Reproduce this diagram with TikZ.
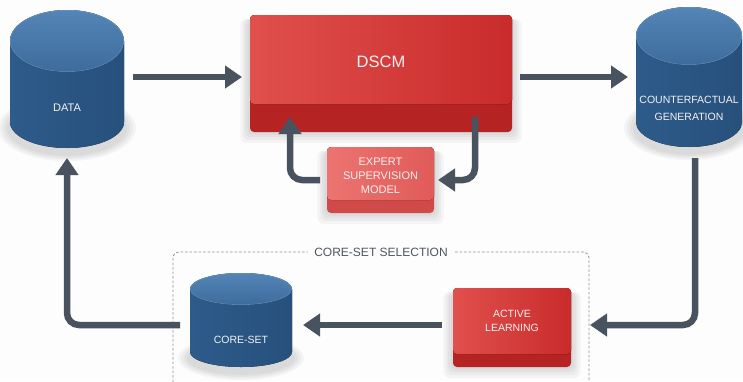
\documentclass[tikz,border=0pt]{standalone}
\usepackage{fontspec}
\setmainfont{Liberation Sans}
\usetikzlibrary{arrows.meta,calc}
\definecolor{bgc}{HTML}{FDFDFD}
\definecolor{arrcol}{HTML}{48535F}
\definecolor{cylL}{HTML}{2D5B8A}
\definecolor{cylM}{HTML}{3F6F9F}
\definecolor{cylR}{HTML}{27507C}
\definecolor{cylT}{HTML}{5485B7}
\definecolor{cylB}{HTML}{3D6C9C}
\definecolor{cylRim}{HTML}{6F9BC6}
\definecolor{redL}{HTML}{E0504C}
\definecolor{redR}{HTML}{C92B2B}
\definecolor{redLip}{HTML}{B52323}
\definecolor{expL}{HTML}{EC7471}
\definecolor{expR}{HTML}{E05B59}
\definecolor{expLip}{HTML}{CF4A48}
\definecolor{dashc}{HTML}{8A8F96}
\definecolor{txtc}{HTML}{F4F1F1}
\definecolor{lblc}{HTML}{50565E}
\tikzset{
  arr/.style={line width=6.5pt, draw=arrcol, rounded corners=12pt,
    -{Triangle[width=22pt,length=17pt]}},
  anchorbox/.style={draw=none, fill=none, inner sep=0pt, outer sep=0pt},
  cylbody/.style={left color=cylL, middle color=cylM, right color=cylR},
  cyltop/.style={top color=cylT, bottom color=cylB},
  wtext/.style={text=txtc, align=center, inner sep=0pt},
  shadowlayer/.style={fill=black, fill opacity=0.035},
}
% cylinder: cx, top-centre y, bottom-centre y, rx, ry top, ry bottom
\newcommand\mycyl[6]{%
  \foreach \k in {3,6,9,12}{%
    \fill[shadowlayer] (#1,#3+6) ellipse[x radius=#4pt+\k pt, y radius=#6pt+0.6*\k pt];}
  \fill[cylbody] (#1,#2) ++(-#4,0) -- ++(0,#3-#2)
     arc[start angle=180,end angle=360,x radius=#4pt,y radius=#6pt] -- ++(0,#2-#3) -- cycle;
  \fill[cyltop] (#1,#2) ellipse[x radius=#4pt, y radius=#5pt];
  \draw[cylRim, line width=0.6pt, opacity=0.6] (#1,#2) ellipse[x radius=#4pt-0.3pt, y radius=#5pt-0.3pt];
}
% key-cap box: x1,y1,x2,y2, lip top y, face left col, face right col, lip col
\newcommand\mybox[8]{%
  \foreach \k in {3,6,9,12}{%
    \fill[shadowlayer, rounded corners=6pt] (#1-\k*0.8,#2+4) rectangle (#3+\k*0.8,#4+\k*0.9);}
  \fill[#8, rounded corners=4pt] (#1,#2) rectangle (#3,#4);
  \fill[left color=#6, right color=#7, rounded corners=4pt] (#1,#2) rectangle (#3,#5);
}
\begin{document}
\begin{tikzpicture}[x=1pt,y=-1pt]
\fill[bgc] (0,0) rectangle (743,381);
\useasboundingbox (0,0) rectangle (743,381);
\clip (0,0) rectangle (743,381);

% dashed selection frame
\draw[dashc, line width=0.8pt, dash pattern=on 2.5pt off 2pt, rounded corners=6pt]
  (173,400) -- (173,252) -- (589,252) -- (589,400);
\node[fill=bgc, text=lblc, font=\fontsize{12}{14}\selectfont, inner xsep=6pt] (sel) at (381,252) {CORE-SET SELECTION};

% shapes
\mycyl{67}{41}{122}{57}{31}{26}
\mycyl{689}{36}{122}{53}{29}{25}
\mycyl{241}{289}{352}{51}{16}{15}
\mybox{250}{15}{512}{132}{104}{redL}{redR}{redLip}
\mybox{327}{147}{434}{213}{200}{expL}{expR}{expLip}
\mybox{453}{288}{571}{367}{354}{redL}{redR}{redLip}

% named anchor nodes
\node[anchorbox, minimum width=114pt, minimum height=142pt] (data) at (67,77) {};
\node[anchorbox, minimum width=106pt, minimum height=140pt] (cf) at (689,77) {};
\node[anchorbox, minimum width=102pt, minimum height=94pt] (coreset) at (241,320) {};
\node[anchorbox, minimum width=262pt, minimum height=117pt] (dscm) at (381,73.5) {};
\node[anchorbox, minimum width=107pt, minimum height=66pt] (expert) at (380.5,180) {};
\node[anchorbox, minimum width=118pt, minimum height=79pt] (active) at (512,325) {};

% labels
\node[wtext, font=\fontsize{11}{13}\selectfont] (datalbl) at (67,108) {DATA};
\node[wtext, font=\fontsize{16.5}{19}\selectfont] (dscmlbl) at (381,62) {DSCM};
\node[wtext, font=\fontsize{10.5}{17}\selectfont] (cflbl) at (689,108) {COUNTERFACTUAL\\GENERATION};
\node[wtext, font=\fontsize{11}{13.8}\selectfont] (explbl) at (380.5,176) {EXPERT\\SUPERVISION\\MODEL};
\node[wtext, font=\fontsize{10.5}{13.5}\selectfont] (actlbl) at (512,321) {ACTIVE\\LEARNING};
\node[wtext, font=\fontsize{10.5}{13}\selectfont] (corelbl) at (241,340) {CORE-SET};

% connectors
\draw[arr] ([xshift=9pt]data.east) -- ([xshift=-8pt]data.east -| dscm.west);
\draw[arr] ([xshift=8pt]cf.west -| dscm.east) -- ([xshift=-8pt]cf.west);
\draw[arr] ([xshift=-7pt]expert.west) -| ([xshift=40pt,yshift=15pt]dscm.south west);
\draw[arr] ([xshift=-37pt,yshift=15pt]dscm.south east) |- ([xshift=4pt]expert.east);
\draw[arr] ([xshift=6pt,yshift=-11pt]cf.south) |- ([xshift=19pt]active.east);
\draw[arr] ([xshift=-11pt]active.west) -- ([xshift=11pt]active.west -| coreset.east);
\draw[arr] ([xshift=-10pt]active.west -| coreset.west) -| ([yshift=-10pt]data.south);
\end{tikzpicture}
\end{document}
